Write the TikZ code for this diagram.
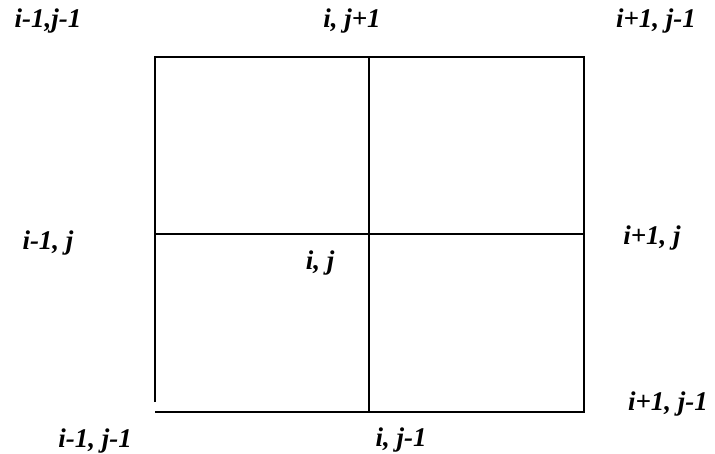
\documentclass[tikz,border=0pt]{standalone}
\usepackage{fontspec}
\setmainfont{Liberation Serif}
\usetikzlibrary{positioning}

\begin{document}
\begin{tikzpicture}[x=1pt,y=-1pt,
  gridline/.style={line width=2.6pt},
  lbl/.style={font=\fontsize{27}{31}\selectfont\bfseries\itshape,inner sep=0pt}]
\useasboundingbox (0,0) rectangle (715,454);
% grid corners
\coordinate (tl) at (155,57);
\coordinate (tm) at (369,57);
\coordinate (tr) at (584,57);
\coordinate (ml) at (155,234);
\coordinate (mr) at (584,234);
\coordinate (bl) at (155,412);
\coordinate (bm) at (369,412);
\coordinate (br) at (584,412);
\coordinate (blgap) at (155,402);
% grid
\draw[gridline] (blgap) -- (tl) -- (tr) -- (br) -- (bl);
\draw[gridline] (tm) -- (bm);
\draw[gridline] (ml) -- (mr);
% node labels
\node[lbl] (nw) at (48,21) {i-1,j-1};
\node[lbl] (n) at (352,21) {i, j+1};
\node[lbl] (ne) at (656,21) {i+1, j-1};
\node[lbl] (w) at (48,243) {i-1, j};
\node[lbl] (c) at (320,263) {i, j};
\node[lbl] (e) at (652,238) {i+1, j};
\node[lbl] (sw) at (95,441) {i-1, j-1};
\node[lbl] (s) at (401,440) {i, j-1};
\node[lbl] (se) at (668,404) {i+1, j-1};
\end{tikzpicture}
\end{document}
